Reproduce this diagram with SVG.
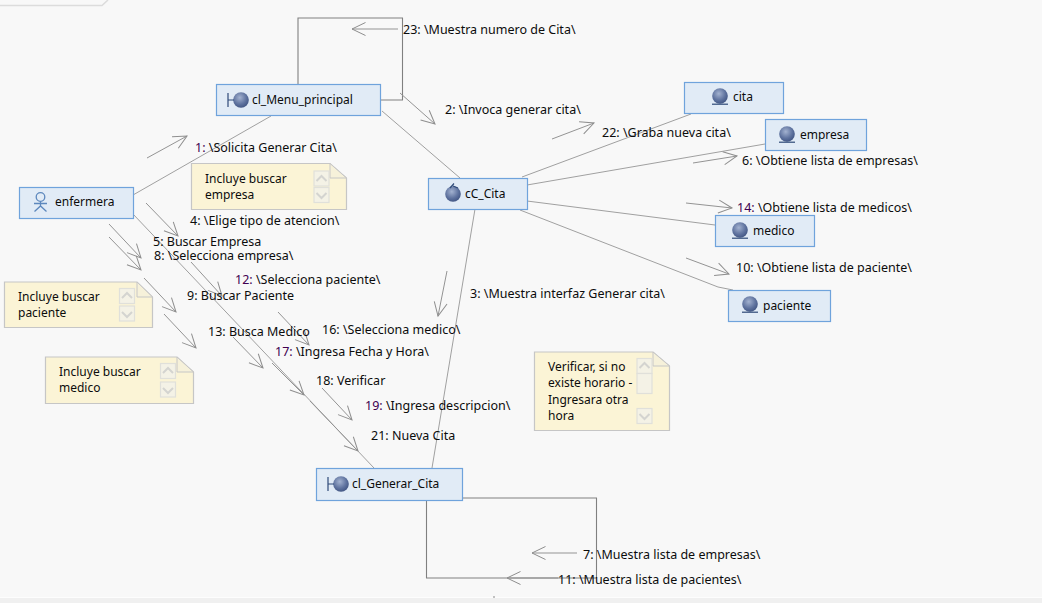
<svg xmlns="http://www.w3.org/2000/svg" width="1042" height="603" viewBox="0 0 1042 603">
<defs>
<style>
text{font-family:"Noto Sans","DejaVu Sans","Liberation Sans",sans-serif;font-size:12.5px;fill:#0c0c0c}
.t{font-size:12px}
.p{fill:#400050}
.node{fill:#e1ebf6;stroke:#6fa3dc;stroke-width:1.2}
.note{fill:#fbf4d6;stroke:#c6c6c6;stroke-width:1.2}
.fold{fill:#f6f1da;stroke:#c6c6c6;stroke-width:1}
.btn{fill:#f4f2e6;stroke:#e0e0da;stroke-width:1.2}
.chev{fill:none;stroke:#d4d4d0;stroke-width:2}
.ln{fill:none;stroke:#a0a0a0;stroke-width:1}
.loop{fill:none;stroke:#808080;stroke-width:1.1}
.msg{fill:none;stroke:#949494;stroke-width:1;marker-end:url(#v)}
.ic{stroke:#2f4a78;stroke-width:1.2;fill:none}
.act{stroke:#5d88bd;stroke-width:1.3;fill:none}
</style>
<radialGradient id="g" cx="0.42" cy="0.35" r="0.7">
<stop offset="0" stop-color="#a3b2d0"/><stop offset="0.6" stop-color="#5f739f"/><stop offset="1" stop-color="#3e5280"/>
</radialGradient>
<marker id="v" markerUnits="userSpaceOnUse" markerWidth="18" markerHeight="16" refX="15" refY="8" orient="auto">
<path d="M1.5,1.5 L15,8 L1.5,14.5" fill="none" stroke="#8e8e8e" stroke-width="1"/>
</marker>
<g id="up"><path class="chev" d="M-5,2 L0,-3 L5,2"/></g>
<g id="dn"><path class="chev" d="M-5,-2 L0,3 L5,-2"/></g>
<g id="ent"><circle r="7.8" fill="url(#g)"/><path class="ic" d="M-8,8.2 H8"/></g>
<g id="bnd"><circle r="7.8" fill="url(#g)"/><path class="ic" d="M-13,-7 V7 M-13,0 H-7"/></g>
</defs>

<rect width="1042" height="603" fill="#f8f8f8"/>
<path d="M0,5.5 H102 L108,0" fill="none" stroke="#dcdcdc" stroke-width="1.5"/>
<rect y="598" width="1042" height="5" fill="#f0f0f0"/>
<rect y="597" width="1042" height="1" fill="#fdfdfd"/>
<rect x="493" y="596.500" width="2" height="1" fill="#888"/>

<g id="connectors">
<path class="ln" d="M133,195 L271,116"/>
<path class="ln" d="M133,214 L374,468"/>
<path class="ln" d="M382,111 L460,178"/>
<path class="ln" d="M522,177 L691,114"/>
<path class="ln" d="M527,185 L765,144"/>
<path class="ln" d="M527,201 L715,225"/>
<path class="ln" d="M520,210 L718,287 L733,290"/>
<path class="ln" d="M475,209 L432,468"/>
<path class="loop" d="M298,84 V18 H402.500 V100 H380"/>
<path class="loop" d="M463,498 H596.500 V578 H426.500 V500"/>
<path class="msg" d="M147,158 L187,136"/>
<path class="msg" d="M398,29 H352"/>
<path class="msg" d="M400,93 L435,124"/>
<path class="msg" d="M552,139 L594,123"/>
<path class="msg" d="M693,163 L737,156"/>
<path class="msg" d="M686,203 L732,208"/>
<path class="msg" d="M686,258 L729,274"/>
<path class="msg" d="M447,271 L438,316"/>
<path class="msg" d="M146,203 L178,236"/>
<path class="msg" d="M109,224 L141,258"/>
<path class="msg" d="M109,237 L141,270"/>
<path class="msg" d="M144,278 L176,312"/>
<path class="msg" d="M164,314 L196,348"/>
<path class="msg" d="M191,262 L222,296"/>
<path class="msg" d="M278,312 L309,345"/>
<path class="msg" d="M233,337 L263,368"/>
<path class="msg" d="M272,363 L304,395"/>
<path class="msg" d="M322,388 L352,420"/>
<path class="msg" d="M310,401 L358,451"/>
<path class="msg" d="M577,553 H532"/>
<path class="msg" d="M558,578 H507"/>
</g>

<g id="enfermera">
<rect class="node" x="19.500" y="187.500" width="114" height="31"/>
<circle class="act" cx="40.500" cy="197" r="4.300"/>
<path class="act" d="M40.500,201.300 V206 M34,203.500 H47 M34.500,211.500 L40.500,206 L46.500,211.500"/>
<text class="t" x="55" y="206">enfermera</text>
</g>
<g id="cl_Menu_principal">
<rect class="node" x="216.500" y="84.500" width="164" height="31"/>
<use href="#bnd" x="241" y="100"/>
<text class="t" x="252" y="104">cl_Menu_principal</text>
</g>
<g id="cC_Cita">
<rect class="node" x="428.500" y="178.500" width="99" height="31"/>
<circle cx="453" cy="194" r="7.800" fill="url(#g)"/>
<path class="ic" d="M450,188 L454,183.500 M453,186 L458,188"/>
<text class="t" x="465" y="198">cC_Cita</text>
</g>
<g id="cita">
<rect class="node" x="684.500" y="82.500" width="99" height="31"/>
<use href="#ent" x="720" y="96"/>
<text class="t" x="733" y="101">cita</text>
</g>
<g id="empresa">
<rect class="node" x="765.500" y="119.500" width="101" height="31"/>
<use href="#ent" x="787" y="134"/>
<text class="t" x="800" y="139">empresa</text>
</g>
<g id="medico">
<rect class="node" x="715.500" y="215.500" width="99" height="31"/>
<use href="#ent" x="740" y="230"/>
<text class="t" x="753" y="235">medico</text>
</g>
<g id="paciente">
<rect class="node" x="728.500" y="290.500" width="102" height="31"/>
<use href="#ent" x="750" y="304"/>
<text class="t" x="763" y="310">paciente</text>
</g>
<g id="cl_Generar_Cita">
<rect class="node" x="316.500" y="468.500" width="146" height="32"/>
<use href="#bnd" x="341" y="484"/>
<text class="t" x="352" y="488">cl_Generar_Cita</text>
</g>

<g id="note-empresa">
<path class="note" d="M191.500,163.500 H330 L346.500,178 V209.500 H191.500 Z"/>
<path class="fold" d="M330,163.500 V178 H346.500 Z"/>
<rect class="btn" x="314" y="171" width="15" height="15"/><rect class="btn" x="314" y="187.500" width="15" height="15"/>
<use href="#up" x="321.500" y="179"/><use href="#dn" x="321.500" y="195"/>
<text class="t" x="205" y="183">Incluye buscar</text><text class="t" x="205" y="199">empresa</text>
</g>
<g id="note-paciente">
<path class="note" d="M4.500,282 H137 L152.500,297 V327.500 H4.500 Z"/>
<path class="fold" d="M137,282 V297 H152.500 Z"/>
<rect class="btn" x="119.500" y="288.500" width="15" height="15"/><rect class="btn" x="119.500" y="306" width="15" height="15"/>
<use href="#up" x="127" y="296"/><use href="#dn" x="127" y="314"/>
<text class="t" x="18" y="301">Incluye buscar</text><text class="t" x="18" y="317">paciente</text>
</g>
<g id="note-medico">
<path class="note" d="M45.500,357 H177 L193.500,372 V403.500 H45.500 Z"/>
<path class="fold" d="M177,357 V372 H193.500 Z"/>
<rect class="btn" x="160.500" y="363.500" width="15" height="15"/><rect class="btn" x="160.500" y="382" width="15" height="15"/>
<use href="#up" x="168" y="371"/><use href="#dn" x="168" y="390"/>
<text class="t" x="59" y="376">Incluye buscar</text><text class="t" x="59" y="392">medico</text>
</g>
<g id="note-verificar">
<path class="note" d="M534.500,352 H653 L669.500,366 V430.500 H534.500 Z"/>
<path class="fold" d="M653,352 V366 H669.500 Z"/>
<rect class="btn" x="637" y="358.500" width="15" height="15"/><rect class="btn" x="637" y="373.500" width="15" height="20"/><rect class="btn" x="637" y="408.500" width="15" height="15"/>
<use href="#up" x="644.500" y="366"/><use href="#dn" x="644.500" y="416"/>
<text class="t" x="548" y="371">Verificar, si no</text><text class="t" x="548" y="387">existe horario -</text><text class="t" x="548" y="404">Ingresara otra</text><text class="t" x="548" y="420">hora</text>
</g>

<g id="labels">
<text x="403" y="34">23: \Muestra numero de Cita\</text>
<text x="445" y="114">2: \Invoca generar cita\</text>
<text x="602" y="137">22: \Graba nueva cita\</text>
<text x="742" y="165">6: \Obtiene lista de empresas\</text>
<text x="737" y="212"><tspan class="p">14:</tspan> \Obtiene lista de medicos\</text>
<text x="736" y="272">10: \Obtiene lista de paciente\</text>
<text x="195" y="152"><tspan class="p">1:</tspan> \Solicita Generar Cita\</text>
<text x="470" y="298">3: \Muestra interfaz Generar cita\</text>
<text x="190" y="225">4: \Elige tipo de atencion\</text>
<text x="153" y="246">5: Buscar Empresa</text>
<text x="154" y="260">8: \Selecciona empresa\</text>
<text x="235" y="284"><tspan class="p">12:</tspan> \Selecciona paciente\</text>
<text x="187" y="300">9: Buscar Paciente</text>
<text x="208" y="336">13: Busca Medico</text>
<text x="322" y="334">16: \Selecciona medico\</text>
<text x="275" y="356"><tspan class="p">17:</tspan> \Ingresa Fecha y Hora\</text>
<text x="316" y="385">18: Verificar</text>
<text x="365" y="410"><tspan class="p">19:</tspan> \Ingresa descripcion\</text>
<text x="371" y="440">21: Nueva Cita</text>
<text x="583" y="559">7: \Muestra lista de empresas\</text>
<text x="558" y="584">11: \Muestra lista de pacientes\</text>
</g>
</svg>
